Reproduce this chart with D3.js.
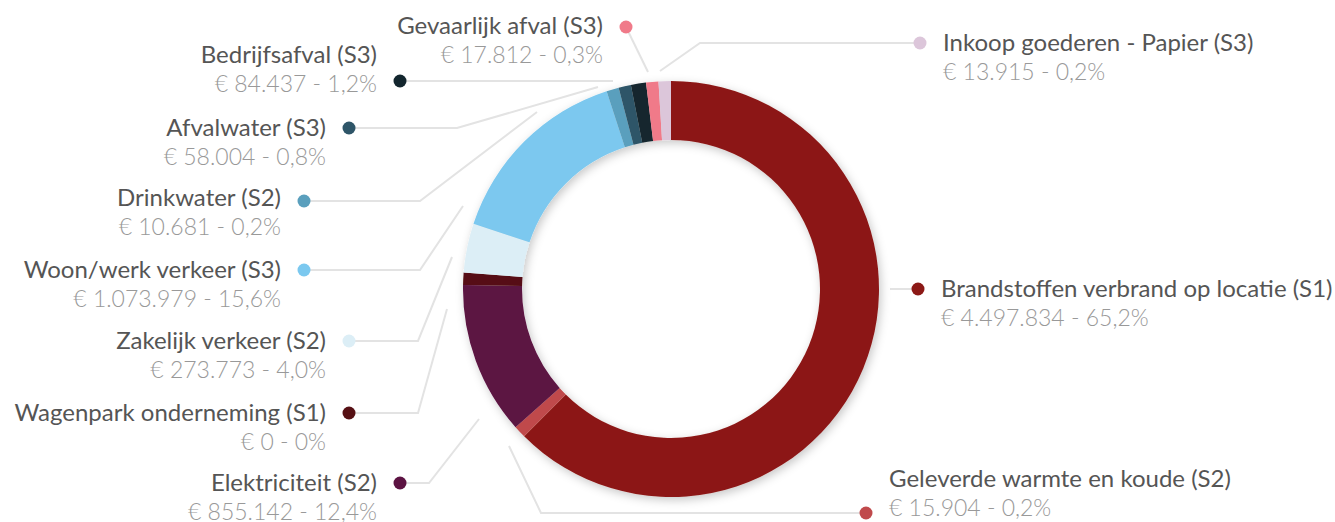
<!DOCTYPE html>
<html>
<head>
<meta charset="utf-8">
<script src="https://cdn.jsdelivr.net/npm/d3@7"></script>
<style>
  html, body { margin: 0; padding: 0; background: #fff; }
  svg { display: block; font-family: Lato, "Noto Sans", sans-serif; }
</style>
</head>
<body>
<svg id="chart"></svg>
<script>
/* ---------- data ---------- */
const categories = [
  "Brandstoffen verbrand op locatie (S1)",
  "Geleverde warmte en koude (S2)",
  "Elektriciteit (S2)",
  "Wagenpark onderneming (S1)",
  "Zakelijk verkeer (S2)",
  "Woon/werk verkeer (S3)",
  "Drinkwater (S2)",
  "Afvalwater (S3)",
  "Bedrijfsafval (S3)",
  "Gevaarlijk afval (S3)",
  "Inkoop goederen - Papier (S3)"
];
const values = [4497834, 15904, 855142, 0, 273773, 1073979, 10681, 58004, 84437, 17812, 13915];
const colors = ["#8c1916", "#c04a4c", "#5c1342", "#561014", "#dceef6", "#7bc8ef",
                "#5a9fbd", "#2e5568", "#13262e", "#f07a89", "#dcc6da"];

// where each label sits and how its connector runs to the ring
const labelLayout = [
  { side: "r", dot: [918, 289], path: [[890, 289]], textDy: 0 },
  { side: "r", dot: [866, 513], path: [[541, 513], [509, 446]], textDy: -34 },
  { side: "l", dot: [400, 483], path: [[429, 483], [479, 419]], textDy: 0 },
  { side: "l", dot: [349, 413], path: [[418, 413], [447, 309]], textDy: 0 },
  { side: "l", dot: [349, 341], path: [[418, 341], [452, 257]], textDy: 0 },
  { side: "l", dot: [304, 270], path: [[420, 270], [463, 206]], textDy: 0 },
  { side: "l", dot: [304, 201], path: [[420, 201], [537, 112]], textDy: -3 },
  { side: "l", dot: [349, 128], path: [[457, 128], [598, 87]], textDy: 0 },
  { side: "l", dot: [400, 81],  path: [[613, 81]], textDy: -26 },
  { side: "l", dot: [626, 27],  path: [[648, 72]], textDy: -1 },
  { side: "r", dot: [920, 43],  path: [[700, 43], [660, 71]], textDy: 0 }
];

/* ---------- setup ---------- */
const width = 1335, height = 522,
      center = { x: 671, y: 289 },
      outerR = 208, innerR = 149,
      minShare = 0.01;   // tiny slices get at least 1% of the ring

const svg = d3.select("#chart").attr("width", width).attr("height", height);

const nl = d3.formatLocale({ decimal: ",", thousands: ".", grouping: [3], currency: ["€ ", ""] });
const fmtMoney = nl.format("$,.0f");
const fmtPct = v => v === 0 ? "0%" : nl.format(".1f")(v) + "%";

const total = d3.sum(values);
const data = categories.map((name, i) => ({
  name, value: values[i], color: colors[i], layout: labelLayout[i]
}));

const pie = d3.pie()
  .sort(null)
  .value(d => Math.max(d.value, total * minShare));

const arc = d3.arc().innerRadius(innerR).outerRadius(outerR);

const defs = svg.append("defs");
defs.append("filter")
    .attr("id", "ringShadow")
    .attr("x", "-20%").attr("y", "-20%").attr("width", "140%").attr("height", "140%")
  .append("feDropShadow")
    .attr("dx", 2).attr("dy", 3).attr("stdDeviation", 5)
    .attr("flood-color", "#000").attr("flood-opacity", 0.22);

/* ---------- connectors ---------- */
const lineLayer = svg.append("g");
lineLayer.selectAll("path").data(data).enter().append("path")
  .attr("fill", "none")
  .attr("stroke", "#e3e3e3")
  .attr("stroke-width", 2)
  .attr("d", d => d3.line()([d.layout.dot, ...d.layout.path]));

/* ---------- donut ---------- */
const ring = svg.append("g")
  .attr("transform", `translate(${center.x},${center.y})`)
  .attr("filter", "url(#ringShadow)");

ring.selectAll("path").data(pie(data)).enter().append("path")
  .attr("d", arc)
  .attr("fill", d => d.data.color);

/* ---------- labels ---------- */
const labels = svg.append("g").selectAll("g").data(data).enter().append("g");

labels.append("circle")
  .attr("cx", d => d.layout.dot[0])
  .attr("cy", d => d.layout.dot[1])
  .attr("r", 6.5)
  .attr("fill", d => d.color);

labels.each(function(d) {
  const g = d3.select(this);
  const left = d.layout.side === "l";
  const x = d.layout.dot[0] + (left ? -23 : 23);
  const y = d.layout.dot[1] + d.layout.textDy;
  const anchor = left ? "end" : "start";

  g.append("text")
    .attr("x", x).attr("y", y)
    .attr("dy", "0.35em")
    .attr("text-anchor", anchor)
    .attr("font-size", 24)
    .attr("fill", "#555")
    .text(d.name);

  g.append("text")
    .attr("x", x).attr("y", y + 29)
    .attr("dy", "0.35em")
    .attr("text-anchor", anchor)
    .attr("font-size", 23)
    .attr("font-weight", 300)
    .attr("fill", "#999")
    .text(`${fmtMoney(d.value)} - ${fmtPct(d.value / total * 100)}`);
});
</script>
</body>
</html>
